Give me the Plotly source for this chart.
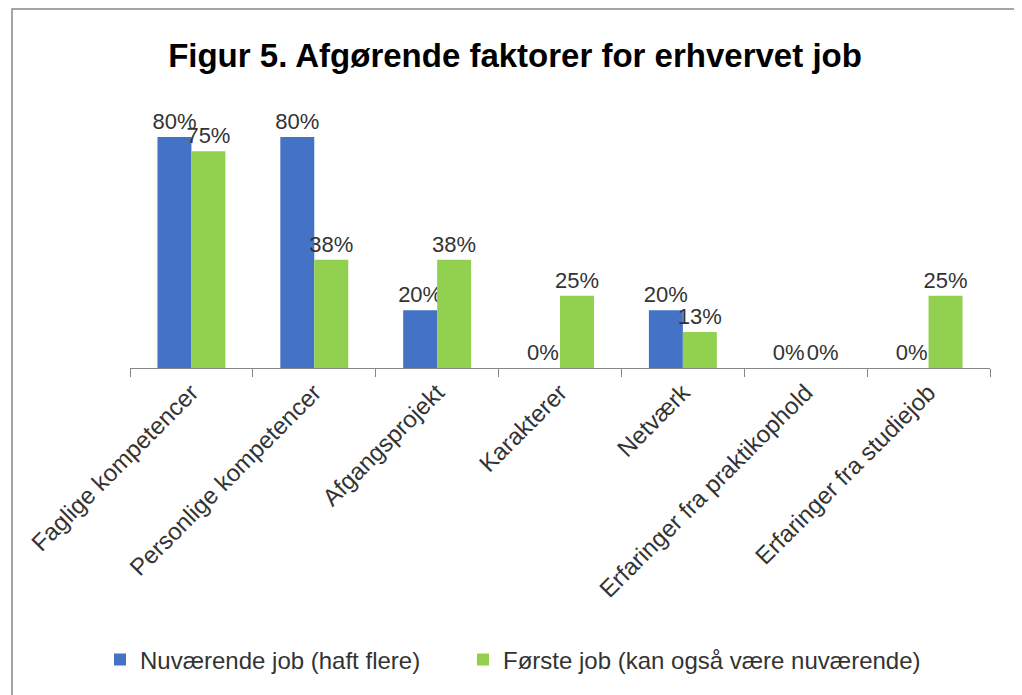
import plotly.graph_objects as go

categories = ["Faglige kompetencer", "Personlige kompetencer", "Afgangsprojekt",
              "Karakterer", "Netværk", "Erfaringer fra praktikophold",
              "Erfaringer fra studiejob"]
nuvaerende = [0.80, 0.80, 0.20, 0.0, 0.20, 0.0, 0.0]
foerste = [0.75, 0.375, 0.375, 0.25, 0.125, 0.0, 0.25]
series_names = ["Nuværende job (haft flere)", "Første job (kan også være nuværende)"]
colors = ["#4472C4", "#92D050"]

FONT = "Liberation Sans, Arial, sans-serif"


def pct(v):
    return f"{int(v * 100 + 0.5)}%"


W, H = 1022, 695
L, R, T, B = 122, 40, 100, 335
pw = W - L - R
ph = H - T - B

fig = go.Figure()
for i, (name, vals, col) in enumerate(zip(series_names, [nuvaerende, foerste], colors)):
    fig.add_trace(go.Bar(
        x=categories, y=vals, name=name, marker=dict(color=col, line=dict(width=0)),
        text=[pct(v) for v in vals], textposition="outside", constraintext="none",
        textfont=dict(size=22, color="#333333", family=FONT), cliponaxis=False,
        legend="legend" if i == 0 else "legend2",
    ))

leg_common = dict(orientation="h", xanchor="left", y=(360 - 652) / ph, yanchor="middle",
                  font=dict(size=24, color="#333333", family=FONT), itemwidth=30,
                  bgcolor="rgba(0,0,0,0)")

fig.update_layout(
    width=W, height=H,
    margin=dict(l=L, r=R, t=T, b=B),
    paper_bgcolor="white", plot_bgcolor="white",
    barmode="group", bargap=0.447, bargroupgap=0,
    font=dict(family=FONT, size=22, color="#333333"),
    title=dict(text="<b>Figur 5. Afgørende faktorer for erhvervet job</b>",
               x=507 / W, xanchor="center", y=1 - 47 / H, yanchor="middle",
               font=dict(size=33, color="black", family=FONT)),
    showlegend=True,
    legend=dict(x=(92 - L) / pw, **leg_common),
    legend2=dict(x=(455 - L) / pw, **leg_common),
    xaxis=dict(showline=True, linecolor="#868686", linewidth=1,
               ticks="outside", ticklen=8, tickcolor="#868686", tickson="boundaries",
               tickangle=-45, showgrid=False, tickfont=dict(size=24, color="#333333")),
    yaxis=dict(range=[0, 0.9], visible=False, showgrid=False, zeroline=False),
    shapes=[dict(type="rect", xref="paper", yref="paper",
                 x0=(4 - L) / pw, x1=(1007 - L) / pw,
                 y0=(360 - 720) / ph, y1=(360 - 1) / ph,
                 line=dict(color="#888888", width=1.5), fillcolor="rgba(0,0,0,0)",
                 layer="below")],
)

fig.write_html("out.html")
